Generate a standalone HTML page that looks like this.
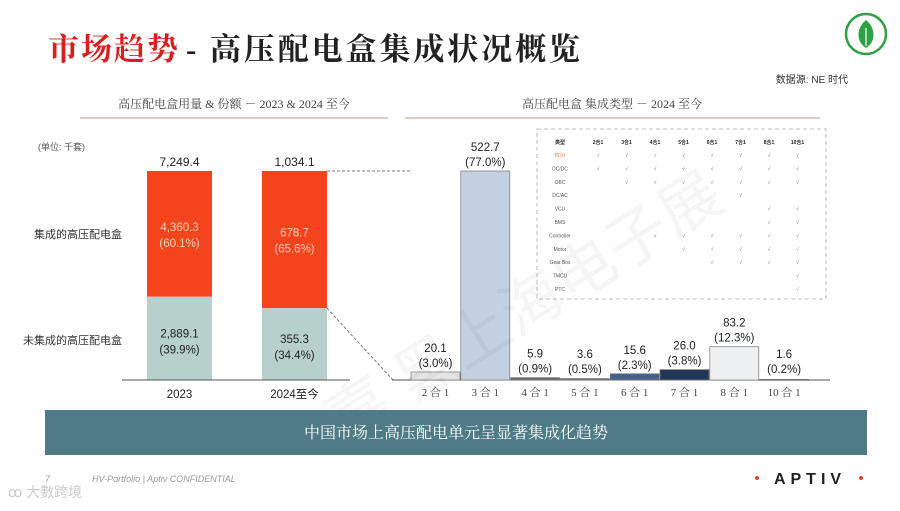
<!DOCTYPE html>
<html><head><meta charset="utf-8">
<style>
body{margin:0;width:900px;height:506px;background:#fff;overflow:hidden;font-family:"Liberation Sans","Noto Sans CJK SC",sans-serif;}
svg text{font-family:"Liberation Sans","Noto Sans CJK SC",sans-serif;}
.serif{font-family:"Liberation Serif","Noto Serif CJK SC",serif;}
</style></head><body>
<svg width="900" height="506" viewBox="0 0 900 506">
<g>
<text x="48" y="60" font-size="31" font-weight="bold" fill="#d81e1e" class="serif" textLength="130">市场趋势</text>
<text x="186" y="60" font-size="31" font-weight="bold" fill="#222" class="serif" textLength="394">- 高压配电盒集成状况概览</text>
</g>
<g>
<circle cx="866" cy="34" r="20" fill="#fff" stroke="#2fa044" stroke-width="2.5"/>
<path d="M866 20 C876 28 876 42 866 48 C856 42 856 28 866 20Z" fill="#2fa044"/>
<line x1="866" y1="28" x2="866" y2="46" stroke="#fff" stroke-width="1.2"/>
</g>
<text x="848" y="83" font-size="10" fill="#333" text-anchor="end">数据源: NE 时代</text>
<text x="234" y="108" font-size="12" fill="#444" text-anchor="middle" class="serif">高压配电盒用量 &amp; 份额 － 2023 &amp; 2024 至今</text>
<line x1="80" y1="118" x2="388" y2="118" stroke="#d8b8b0" stroke-width="1.5"/>
<text x="612" y="108" font-size="12" fill="#444" text-anchor="middle" class="serif">高压配电盒 集成类型 － 2024 至今</text>
<line x1="405" y1="118" x2="820" y2="118" stroke="#d8b8b0" stroke-width="1.5"/>

<g id="left"></g>
<g id="right"></g>
<g id="table"></g>

<text x="520" y="330" font-size="62" fill="#000" fill-opacity="0.04" transform="rotate(-32 520 300)" text-anchor="middle">嘉 黑上海电子展</text>

<rect x="45" y="410" width="822" height="45" fill="#4e7b86"/>
<text x="456" y="438" font-size="16" fill="#fff" text-anchor="middle" class="serif">中国市场上高压配电单元呈显著集成化趋势</text>
<text x="45" y="482" font-size="9" fill="#999" font-style="italic">7</text>
<text x="92" y="482" font-size="9" fill="#999" font-style="italic">HV-Portfolio | Aptiv CONFIDENTIAL</text>
<text x="8" y="497" font-size="14" fill="#ccc">ꝏ 大數跨境</text>
<g>
<circle cx="757" cy="478" r="2" fill="#e0442a"/>
<text x="810" y="484" font-size="16" font-weight="bold" fill="#222" text-anchor="middle" letter-spacing="5">APTIV</text>
<circle cx="861" cy="478" r="2" fill="#e0442a"/>
</g>
</svg>
<script>
const NS="http://www.w3.org/2000/svg";
function mk(p,tag,a,txt){const e=document.createElementNS(NS,tag);for(const k in a)e.setAttribute(k,a[k]);if(txt!==undefined)e.textContent=txt;p.appendChild(e);return e;}

// Left chart data
const years=["2023","2024至今"];
const totals=["7,249.4","1,034.1"];
const integrated=[4360.3,678.7];
const integratedPct=["60.1%","65.6%"];
const nonIntegrated=[2889.1,355.3];
const nonIntegratedPct=["39.9%","34.4%"];

// Right chart data
const types=["2 合 1","3 合 1","4 合 1","5 合 1","6 合 1","7 合 1","8 合 1","10 合 1"];
const typeValues=[20.1,522.7,5.9,3.6,15.6,26.0,83.2,1.6];
const typePct=["3.0%","77.0%","0.9%","0.5%","2.3%","3.8%","12.3%","0.2%"];
const typeColors=["#e4e6e4","#c3d1e2","#6a6a6a","#6a6a6a","#46618c","#23375a","#eef0f2","#555"];

// Left stacked 100% bars
const L=document.getElementById('left');
const top0=171,bot0=380,H=bot0-top0;
const bx=[147,262],bw=65;
mk(L,'text',{x:38,y:150,'font-size':9,fill:'#555'},'(单位: 千套)');
const lbl1=mk(L,'text',{x:122,y:238,'font-size':11,fill:'#333','text-anchor':'end'},'集成的高压配电盒');


const lbl2=mk(L,'text',{x:122,y:344,'font-size':11,fill:'#333','text-anchor':'end'},'未集成的高压配电盒');


let split2024=0;
years.forEach((y,i)=>{
  const tot=integrated[i]+nonIntegrated[i];
  const hN=H*nonIntegrated[i]/tot;
  const sy=bot0-hN;
  if(i===1)split2024=sy;
  const r1=mk(L,'rect',{x:bx[i],y:top0,width:bw,height:sy-top0,fill:'#f3441b'});
  
  
  const r2=mk(L,'rect',{x:bx[i],y:sy,width:bw,height:hN,fill:'#b8d0cb'});
  
  
  const cx=bx[i]+bw/2;
  mk(L,'text',{x:cx,y:top0-5,'font-size':12,fill:'#222','text-anchor':'middle'},totals[i]);
  const my=(top0+sy)/2;
  mk(L,'text',{x:cx,y:my-3,'font-size':11.5,fill:'#fbd5c8','text-anchor':'middle'},integrated[i].toLocaleString('en-US',{minimumFractionDigits:1}));
  mk(L,'text',{x:cx,y:my+13,'font-size':11.5,fill:'#fbd5c8','text-anchor':'middle'},'('+integratedPct[i]+')');
  const ny=(sy+bot0)/2;
  mk(L,'text',{x:cx,y:ny-1,'font-size':11.5,fill:'#222','text-anchor':'middle'},nonIntegrated[i].toLocaleString('en-US',{minimumFractionDigits:1}));
  mk(L,'text',{x:cx,y:ny+15,'font-size':11.5,fill:'#222','text-anchor':'middle'},'('+nonIntegratedPct[i]+')');
  mk(L,'text',{x:cx,y:398,'font-size':11.5,fill:'#222','text-anchor':'middle'},y);
});
mk(L,'line',{x1:122,y1:380,x2:350,y2:380,stroke:'#555','stroke-width':1});
mk(L,'line',{x1:327,y1:171,x2:410,y2:171,stroke:'#777','stroke-dasharray':'3,2'});
mk(L,'line',{x1:327,y1:split2024,x2:393,y2:380,stroke:'#777','stroke-dasharray':'3,2'});

// Right bars
const R=document.getElementById('right');
const base=380,x0=411,step=49.8,w=49;
const maxV=Math.max(...typeValues);
const yS=v=>base-v*(209/maxV);
mk(R,'line',{x1:392,y1:380,x2:830,y2:380,stroke:'#555','stroke-width':1});
types.forEach((t,i)=>{
  const x=x0+i*step, y=yS(typeValues[i]);
  const r=mk(R,'rect',{x:x,y:y,width:w,height:Math.max(base-y,1),fill:typeColors[i],stroke:'#777','stroke-width':0.7});
  
  
  const cx=x+w/2;
  const ly=Math.min(y,378)-5;
  mk(R,'text',{x:cx,y:ly-15,'font-size':11.5,fill:'#222','text-anchor':'middle'},typeValues[i].toFixed(1));
  mk(R,'text',{x:cx,y:ly,'font-size':11.5,fill:'#222','text-anchor':'middle'},'('+typePct[i]+')');
  mk(R,'text',{x:cx,y:396,'font-size':11,fill:'#444','text-anchor':'middle','class':'serif'},t);
});

// Table
const T=document.getElementById('table');
mk(T,'rect',{x:537,y:129,width:289,height:170,fill:'#fff',stroke:'#aaa','stroke-dasharray':'4,3','stroke-width':0.8});
const cols=["2合1","3合1","4合1","5合1","6合1","7合1","8合1","10合1"];
const rows=["PDU","DC/DC","OBC","DC/AC","VCU","BMS","Controller","Motor","Gear Box","TMCU","PTC"];
const checks=[[1,1,1,1,1,1,1,1],[1,1,1,1,1,1,1,1],[0,1,1,1,1,1,1,1],[0,0,0,0,0,1,0,0],[0,0,0,0,0,0,1,1],[0,0,0,0,0,0,1,1],[0,0,1,1,1,1,1,1],[0,0,0,1,1,1,1,1],[0,0,0,0,1,1,1,1],[0,0,0,0,0,0,0,1],[0,0,0,0,0,0,0,1]];
mk(T,'text',{x:560,y:144,'font-size':5,fill:'#222','font-weight':'bold','text-anchor':'middle'},'类型');
cols.forEach((c,j)=>mk(T,'text',{x:598+j*28.5,y:144,'font-size':5,fill:'#222','font-weight':'bold','text-anchor':'middle'},c));
rows.forEach((r,i)=>{
  const y=157+i*13.4;
  mk(T,'text',{x:560,y:y,'font-size':5,fill:i===0?'#e08050':'#555','text-anchor':'middle'},r);
  checks[i].forEach((v,j)=>{if(v)mk(T,'text',{x:598+j*28.5,y:y,'font-size':5,fill:'#777','text-anchor':'middle'},'√');});
});
</script>
</body></html>
